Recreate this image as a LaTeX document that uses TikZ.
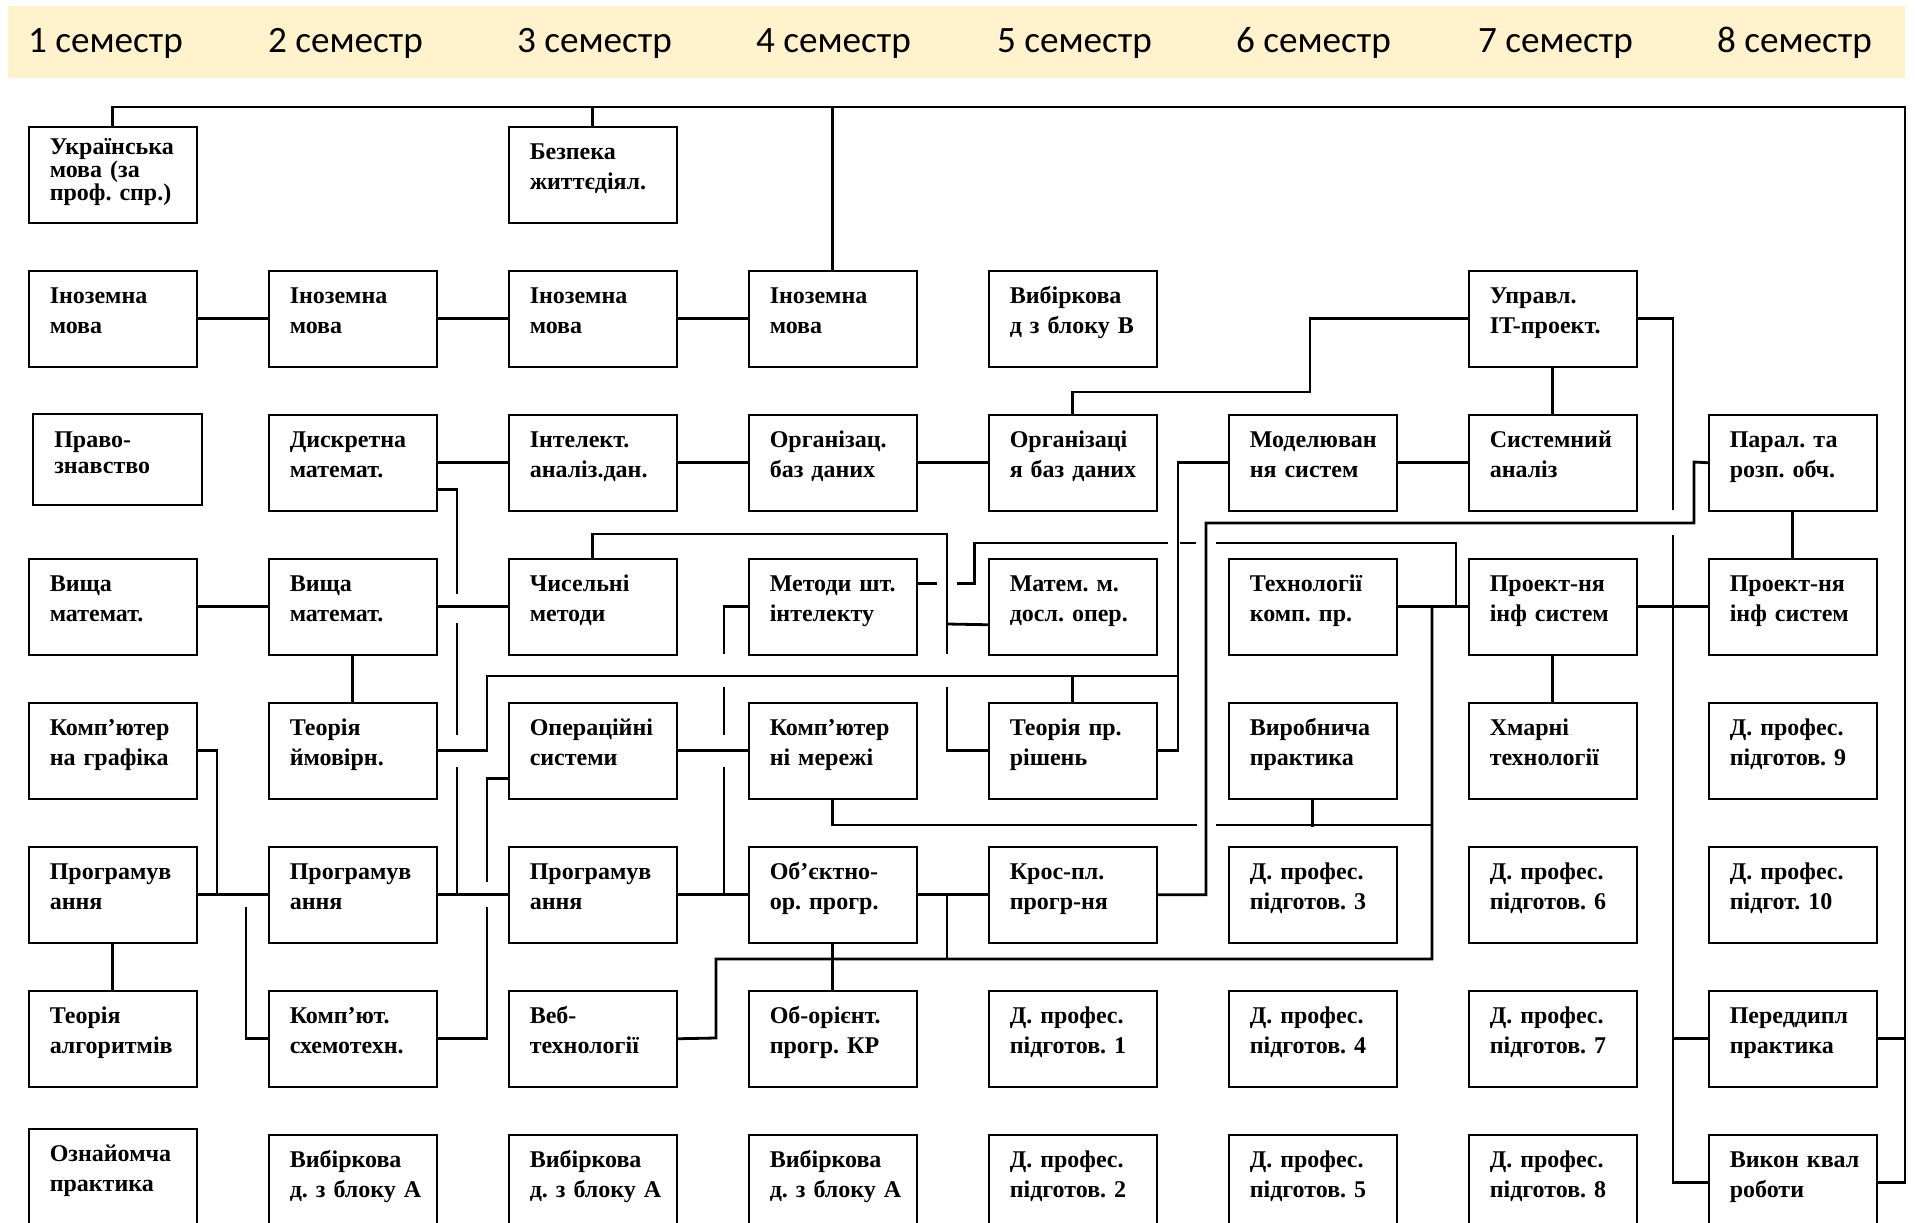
\documentclass[tikz,border=0pt]{standalone}
\usepackage{fontspec}
\setmainfont{Liberation Serif}
\newfontfamily\hdrfont{Carlito}
\usepackage{xcolor}
\usepackage{tikz}
\usetikzlibrary{positioning,calc}
\definecolor{hdrfill}{HTML}{FFF2CC}

\begin{document}
\begin{tikzpicture}[x=1pt, y=-1pt,
        box/.style={draw, line width=1.5pt, anchor=north west, inner xsep=21pt, inner ysep=0pt,
            text width=126pt, align=left, text height=33pt, text depth=63pt,
            font=\bfseries\fontsize{24}{30}\selectfont},
        sem/.style={anchor=base west, inner sep=0pt, font=\hdrfont\fontsize{37.2}{40}\selectfont},
        wire/.style={line width=2.8pt}
    ]
        \fill[white] (0,0) rectangle (1915,1223);
        \clip (0,0) rectangle (1915,1223);
        \fill[hdrfill] (8,6) rectangle (1905,78);

        \node [sem] (s1) at (28,53) {1 семестр};
        \node [sem] (s2) at (268,53) {2 семестр};
        \node [sem] (s3) at (517,53) {3 семестр};
        \node [sem] (s4) at (756,53) {4 семестр};
        \node [sem] (s5) at (997,53) {5 семестр};
        \node [sem] (s6) at (1236,53) {6 семестр};
        \node [sem] (s7) at (1478,53) {7 семестр};
        \node [sem] (s8) at (1717,53) {8 семестр};

        \node [box, text height=28pt, text depth=68pt, font=\bfseries\fontsize{24}{21.5}\selectfont] (ukr) at (28,126) {Українська\\мова (за\\проф.~спр.)};
        \node [box] (bzh) at (508,126) {Безпека\\життєдіял.};

        \node [box] (in1) at (28,270) {Іноземна\\мова};
        \node [box] (in2) at (268,270) {Іноземна\\мова};
        \node [box] (in3) at (508,270) {Іноземна\\мова};
        \node [box] (in4) at (748,270) {Іноземна\\мова};
        \node [box] (vybB) at (988,270) {Вибіркова\\д~з~блоку~В};
        \node [box] (uit) at (1468,270) {Управл.\\IT-проект.};

        \node [box, text height=34pt, text depth=57pt, minimum width=169pt, font=\bfseries\fontsize{24}{26}\selectfont] (prav) at (32,413) {Право-\\знавство};
        \node [box] (dm) at (268,414) {Дискретна\\математ.};
        \node [box] (iad) at (508,414) {Інтелект.\\аналіз.дан.};
        \node [box] (obd1) at (748,414) {Організац.\\баз~даних};
        \node [box] (obd2) at (988,414) {Організаці\\я~баз~даних};
        \node [box] (mods) at (1228,414) {Моделюван\\ня~систем};
        \node [box] (sa) at (1468,414) {Системний\\аналіз};
        \node [box] (prl) at (1708,414) {Парал.~та\\розп.~обч.};

        \node [box] (vm1) at (28,558) {Вища\\математ.};
        \node [box] (vm2) at (268,558) {Вища\\математ.};
        \node [box] (chm) at (508,558) {Чисельні\\методи};
        \node [box] (msi) at (748,558) {Методи~шт.\\інтелекту};
        \node [box] (mmdo) at (988,558) {Матем.~м.\\досл.~опер.};
        \node [box] (tkp) at (1228,558) {Технології\\комп.~пр.};
        \node [box] (pis1) at (1468,558) {Проект-ня\\інф~систем};
        \node [box] (pis2) at (1708,558) {Проект-ня\\інф~систем};

        \node [box] (kg) at (28,702) {Комп’ютер\\на~графіка};
        \node [box] (tim) at (268,702) {Теорія\\ймовірн.};
        \node [box] (os) at (508,702) {Операційні\\системи};
        \node [box] (km) at (748,702) {Комп’ютер\\ні~мережі};
        \node [box] (tpr) at (988,702) {Теорія~пр.\\рішень};
        \node [box] (vp) at (1228,702) {Виробнича\\практика};
        \node [box] (ht) at (1468,702) {Хмарні\\технології};
        \node [box] (dp9) at (1708,702) {Д.~профес.\\підготов.~9};

        \node [box] (pr1) at (28,846) {Програмув\\ання};
        \node [box] (pr2) at (268,846) {Програмув\\ання};
        \node [box] (pr3) at (508,846) {Програмув\\ання};
        \node [box] (oop) at (748,846) {Об’єктно-\\ор.~прогр.};
        \node [box] (kpp) at (988,846) {Крос-пл.\\прогр-ня};
        \node [box] (dp3) at (1228,846) {Д.~профес.\\підготов.~3};
        \node [box] (dp6) at (1468,846) {Д.~профес.\\підготов.~6};
        \node [box] (dp10) at (1708,846) {Д.~профес.\\підгот.~10};

        \node [box] (ta) at (28,990) {Теорія\\алгоритмів};
        \node [box] (ks) at (268,990) {Комп’ют.\\схемотехн.};
        \node [box] (web) at (508,990) {Веб-\\технології};
        \node [box] (oopkr) at (748,990) {Об-орієнт.\\прогр.~КР};
        \node [box] (dp1) at (988,990) {Д.~профес.\\підготов.~1};
        \node [box] (dp4) at (1228,990) {Д.~профес.\\підготов.~4};
        \node [box] (dp7) at (1468,990) {Д.~профес.\\підготов.~7};
        \node [box] (pdp) at (1708,990) {Переддипл\\практика};

        \node [box] (ozp) at (28,1128) {Ознайомча\\практика};
        \node [box] (vybA1) at (268,1134) {Вибіркова\\д.~з~блоку~А};
        \node [box] (vybA2) at (508,1134) {Вибіркова\\д.~з~блоку~А};
        \node [box] (vybA3) at (748,1134) {Вибіркова\\д.~з~блоку~А};
        \node [box] (dp2) at (988,1134) {Д.~профес.\\підготов.~2};
        \node [box] (dp5) at (1228,1134) {Д.~профес.\\підготов.~5};
        \node [box] (dp8) at (1468,1134) {Д.~профес.\\підготов.~8};
        \node [box] (kvr) at (1708,1134) {Викон~квал\\роботи};

        \coordinate (bus) at (1905,107);
        \draw [wire] (ukr.north) |- (bus) |- (kvr.east);
        \draw [wire] (bzh.north) -- (bzh.north |- bus);
        \draw [wire] (in4.north) -- (in4.north |- bus);
        \draw [wire] (pdp.east) -- (pdp.east -| bus);

        \draw [wire] (in1.east) -- (in2.west) (in2.east) -- (in3.west) (in3.east) -- (in4.west);
        \draw [wire] (obd2.north) -- ++(0,-22) -| ([xshift=-158pt]uit.west) -- (uit.west);
        \draw [wire] (uit.east) -| (1673,510) (1673,535) |- (kvr.west);
        \draw [wire] (pdp.west) -- ++(-35,0);
        \draw [wire] (uit.south) -- (sa.north);

        \draw [wire] (dm.east) -- (iad.west) (iad.east) -- (obd1.west) (obd1.east) -- (obd2.west) (mods.east) -- (sa.west);
        \draw [wire] ([yshift=-27pt]dm.east) -| (457,594) (457,623) -- (457,735) (457,767) -- (457,894);
        \draw [wire] (vm1.east) -- (vm2.west) (vm2.east) -- (chm.west);
        \draw [wire] (vm2.south) -- (tim.north);
        \draw [wire] (tim.east) -| (487,676) -- (1178,676);
        \draw [wire] (tpr.north) -- ++(0,-26);
        \draw [wire] (tpr.east) -| ([xshift=-50pt]mods.west) -- (mods.west);

        \draw [wire] (kg.east) -| (217,894);
        \draw [wire] (pr1.east) -- (pr2.west) (pr2.east) -- (pr3.west) (pr3.east) -- (oop.west) (oop.east) -- (kpp.west);
        \draw [wire] (pr1.south) -- (ta.north);
        \draw [wire] (ks.west) -| (246,907);
        \draw [wire] (ks.east) -| (487,907) (487,882) |- ([yshift=-28pt]os.west);
        \draw [wire] (os.east) -- (km.west);
        \draw [wire] (724,894) -- (724,767) (724,735) -- (724,687) (724,654) |- (msi.west);

        \draw [wire] (chm.north) |- (947,534) -- (947,654) (947,687) |- (tpr.west);
        \draw [wire] (947,624) -- ([yshift=-18pt]mmdo.west);
        \draw [wire] ([yshift=23pt]msi.east) -- ++(19,0) ++(20,0) -- ++(18,0) |- (1168,543) (1180,543) -- (1196,543) (1216,543) -| (1456,606);
        \draw [wire] (tkp.east) -- (pis1.west) (pis1.east) -- (pis2.west);
        \draw [wire] (1432,606) |- (818,959) (843,959) -| (716,1038) -- (web.east);
        \draw [wire] (947,894) -- (947,959);
        \draw [wire] (km.south) |- (1197,825) (1216,825) -- (1432,825);
        \draw [wire] (vp.south) -- ++(0,27);
        \draw [wire] (kpp.east) -| (1206,523) -| (1694,462) -- (prl.west);
        \draw [wire] (oop.south) -- (oopkr.north);
        \draw [wire] (prl.south) -- (pis2.north);
        \draw [wire] (pis1.south) -- (ht.north);
    \end{tikzpicture}
\end{document}
